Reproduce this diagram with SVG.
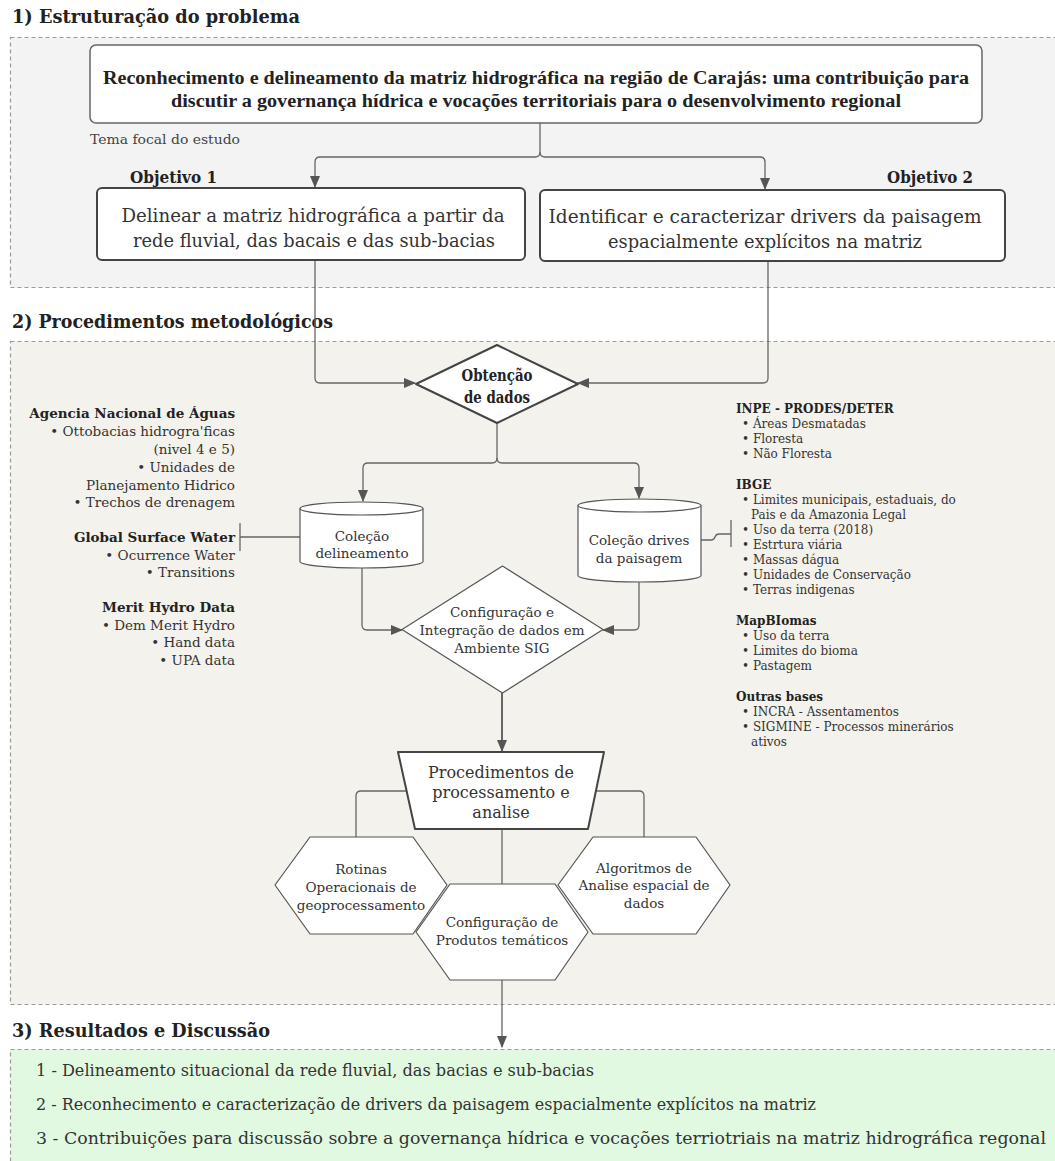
<svg xmlns="http://www.w3.org/2000/svg" width="1055" height="1161" viewBox="0 0 1055 1161">
<defs>
<marker id="arr" markerWidth="12" markerHeight="10" refX="11" refY="5" orient="auto" markerUnits="userSpaceOnUse">
<path d="M0,0 L12,5 L0,10 Z" fill="#555"/>
</marker>
<style>
.sec{stroke:#9a9a9a;stroke-width:1.2;stroke-dasharray:4,3}
.cond{font-family:"DejaVu Serif","Liberation Serif",serif}
.narrow{font-family:"Liberation Serif","DejaVu Serif",serif}
.body{font-family:"DejaVu Serif","Liberation Serif",serif;fill:#333}
.hd{font-weight:bold;fill:#222}
.node{fill:#fff;stroke:#555;stroke-width:1.2}
.nodeb{fill:#fff;stroke:#444;stroke-width:2}
.conn path{fill:none;stroke:#666;stroke-width:1.3}
.mid{text-anchor:middle}
.end{text-anchor:end}
</style>
</defs>
<rect width="1055" height="1161" fill="#fff"/>

<!-- sections -->
<g id="section1">
<text class="cond hd" x="12" y="23" font-size="18" textLength="288" lengthAdjust="spacingAndGlyphs">1) Estruturação do problema</text>
<rect class="sec" x="10.5" y="37.5" width="1060" height="250" fill="#f3f3f3"/>
</g>
<g id="section2">
<text class="cond hd" x="12" y="328" font-size="18" textLength="321" lengthAdjust="spacingAndGlyphs">2) Procedimentos metodológicos</text>
<rect class="sec" x="10.5" y="341.5" width="1060" height="663" fill="#f4f2ec"/>
</g>
<g id="section3">
<text class="cond hd" x="12" y="1037" font-size="18" textLength="258" lengthAdjust="spacingAndGlyphs">3) Resultados e Discussão</text>
<rect class="sec" x="10.5" y="1049.5" width="1060" height="130" fill="#e1f9e1"/>
<text class="cond" fill="#333" x="36" y="1076" font-size="16" textLength="558" lengthAdjust="spacingAndGlyphs">1 - Delineamento situacional da rede fluvial, das bacias e sub-bacias</text>
<text class="cond" fill="#333" x="36" y="1110" font-size="16" textLength="780" lengthAdjust="spacingAndGlyphs">2 - Reconhecimento e caracterização de drivers da paisagem espacialmente explícitos na matriz</text>
<text class="cond" fill="#333" x="36" y="1144" font-size="16" textLength="1010" lengthAdjust="spacingAndGlyphs">3 - Contribuições para discussão sobre a governança hídrica e vocações terriotriais na matriz hidrográfica regonal</text>
</g>

<!-- connectors -->
<g id="connectors" class="conn">
<path d="M540,123 V152 Q540,157 535,157 H320 Q315,157 315,162 V187" marker-end="url(#arr)"/>
<path d="M540,152 Q540,157 545,157 H760 Q765,157 765,162 V189" marker-end="url(#arr)"/>
<path d="M315,260 V378 Q315,383 320,383 H415" marker-end="url(#arr)"/>
<path d="M768,261 V378 Q768,383 763,383 H578" marker-end="url(#arr)"/>
<path d="M497,423 V458 Q497,463 492,463 H368 Q363,463 363,468 V501" marker-end="url(#arr)"/>
<path d="M497,458 Q497,463 502,463 H634 Q639,463 639,468 V498" marker-end="url(#arr)"/>
<path d="M362,568 V625 Q362,630 367,630 H402" marker-end="url(#arr)"/>
<path d="M639,582 V625 Q639,630 634,630 H603" marker-end="url(#arr)"/>
<path d="M502,693 V751" marker-end="url(#arr)" style="stroke-width:2"/>
<path d="M407,791 H361 Q356,791 356,796 V837"/>
<path d="M595,791 H639 Q644,791 644,796 V837"/>
<path d="M502,829 V884"/>
<path d="M502,980 V1047" marker-end="url(#arr)"/>
<path d="M240,523 V551 M240,537 H300"/>
<path d="M731,520 V547 M701,540 H711 Q714,540 715,537 Q716,534 719,534 H731"/>
</g>

<!-- nodes -->
<g id="tema">
<rect class="node" x="90" y="45" width="892" height="78" rx="6" style="stroke:#666;stroke-width:1.5"/>
<text class="narrow hd mid" x="536" y="84" font-size="18" textLength="866" lengthAdjust="spacingAndGlyphs">Reconhecimento e delineamento da matriz hidrográfica na região de Carajás: uma contribuição para</text>
<text class="narrow hd mid" x="536" y="107" font-size="18" textLength="730" lengthAdjust="spacingAndGlyphs">discutir a governança hídrica e vocações territoriais para o desenvolvimento regional</text>
<text class="cond" fill="#444" x="90" y="144" font-size="13" textLength="150" lengthAdjust="spacingAndGlyphs">Tema focal do estudo</text>
</g>
<g id="objetivo1">
<text class="cond hd" x="130" y="183" font-size="16" textLength="87" lengthAdjust="spacingAndGlyphs">Objetivo 1</text>
<rect class="nodeb" x="97" y="188" width="428" height="72" rx="5"/>
<text class="cond mid" fill="#333" x="313" y="222" font-size="19" textLength="383" lengthAdjust="spacingAndGlyphs">Delinear a matriz hidrográfica a partir da</text>
<text class="cond mid" fill="#333" x="314" y="247" font-size="19" textLength="362" lengthAdjust="spacingAndGlyphs">rede fluvial, das bacais e das sub-bacias</text>
</g>
<g id="objetivo2">
<text class="cond hd" x="887" y="183" font-size="16" textLength="86" lengthAdjust="spacingAndGlyphs">Objetivo 2</text>
<rect class="nodeb" x="540" y="190" width="465" height="71" rx="5"/>
<text class="cond mid" fill="#333" x="765" y="223" font-size="19" textLength="433" lengthAdjust="spacingAndGlyphs">Identificar e caracterizar drivers da paisagem</text>
<text class="cond mid" fill="#333" x="765" y="248" font-size="19" textLength="314" lengthAdjust="spacingAndGlyphs">espacialmente explícitos na matriz</text>
</g>
<g id="obtencao">
<path class="nodeb" d="M497,345 L578,384 L497,423 L416,384 Z" stroke-linejoin="round"/>
<text class="cond hd mid" x="497" y="381" font-size="16" textLength="71" lengthAdjust="spacingAndGlyphs">Obtenção</text>
<text class="cond hd mid" x="497" y="403" font-size="16" textLength="66" lengthAdjust="spacingAndGlyphs">de dados</text>
</g>
<g id="fontes-esquerda" class="body" font-size="13.5">
<text class="hd end" x="235" y="418" font-size="13.5">Agencia Nacional de Águas</text>
<text class="end" x="235" y="436">• Ottobacias hidrogra'ficas</text>
<text class="end" x="235" y="454">(nivel 4 e 5)</text>
<text class="end" x="235" y="472">• Unidades de</text>
<text class="end" x="235" y="490">Planejamento Hidrico</text>
<text class="end" x="235" y="507">• Trechos de drenagem</text>
<text class="hd end" x="235" y="542" font-size="13.5">Global Surface Water</text>
<text class="end" x="235" y="560">• Ocurrence Water</text>
<text class="end" x="235" y="577">• Transitions</text>
<text class="hd end" x="235" y="612" font-size="13.5">Merit Hydro Data</text>
<text class="end" x="235" y="630">• Dem Merit Hydro</text>
<text class="end" x="235" y="647">• Hand data</text>
<text class="end" x="235" y="665">• UPA data</text>
</g>
<g id="fontes-direita" class="body" font-size="12">
<text class="hd" x="736" y="413">INPE - PRODES/DETER</text>
<text x="742" y="428">• Áreas Desmatadas</text>
<text x="742" y="443">• Floresta</text>
<text x="742" y="458">• Não Floresta</text>
<text class="hd" x="736" y="489">IBGE</text>
<text x="742" y="504">• Limites municipais, estaduais, do</text>
<text x="751" y="519">Pais e da Amazonia Legal</text>
<text x="742" y="534">• Uso da terra (2018)</text>
<text x="742" y="549">• Estrtura viária</text>
<text x="742" y="564">• Massas dágua</text>
<text x="742" y="579">• Unidades de Conservação</text>
<text x="742" y="594">• Terras indigenas</text>
<text class="hd" x="736" y="625">MapBIomas</text>
<text x="742" y="640">• Uso da terra</text>
<text x="742" y="655">• Limites do bioma</text>
<text x="742" y="670">• Pastagem</text>
<text class="hd" x="736" y="701">Outras bases</text>
<text x="742" y="716">• INCRA - Assentamentos</text>
<text x="742" y="731">• SIGMINE - Processos minerários</text>
<text x="751" y="746">ativos</text>
</g>
<g id="colecao-delineamento">
<path class="node" d="M300,508.5 A61.5,6.5 0 0 1 423,508.5 V561.5 A61.5,6.5 0 0 1 300,561.5 Z"/>
<path d="M300,508.5 A61.5,6.5 0 0 0 423,508.5" fill="none" stroke="#555" stroke-width="1.2"/>
<text class="body mid" x="362" y="541" font-size="13.5">Coleção</text>
<text class="body mid" x="362" y="558" font-size="13.5">delineamento</text>
</g>
<g id="colecao-drives">
<path class="node" d="M578,505.5 A61.5,6.5 0 0 1 701,505.5 V575.5 A61.5,6.5 0 0 1 578,575.5 Z"/>
<path d="M578,505.5 A61.5,6.5 0 0 0 701,505.5" fill="none" stroke="#555" stroke-width="1.2"/>
<text class="body mid" x="639" y="545" font-size="13.5">Coleção drives</text>
<text class="body mid" x="639" y="563" font-size="13.5">da paisagem</text>
</g>
<g id="integracao">
<path class="node" d="M502.5,566 L603,629.5 L502.5,693 L402,629.5 Z" stroke-linejoin="round"/>
<text class="body mid" x="502" y="617" font-size="13.5">Configuração e</text>
<text class="body mid" x="502" y="635" font-size="13.5">Integração de dados em</text>
<text class="body mid" x="502" y="653" font-size="13.5">Ambiente SIG</text>
</g>
<g id="procedimentos">
<path class="nodeb" d="M398,752 L604,752 L588,829 L415,829 Z" stroke-linejoin="round"/>
<text class="body mid" x="501" y="778" font-size="16">Procedimentos de</text>
<text class="body mid" x="501" y="798" font-size="16">processamento e</text>
<text class="body mid" x="501" y="818" font-size="16">analise</text>
</g>
<g id="rotinas">
<path class="node" d="M310,837 L413,837 L447,885 L413,934 L310,934 L275,885 Z" stroke-linejoin="round"/>
<text class="body mid" x="361" y="874" font-size="13.5">Rotinas</text>
<text class="body mid" x="361" y="892" font-size="13.5">Operacionais de</text>
<text class="body mid" x="361" y="910" font-size="13.5">geoprocessamento</text>
</g>
<g id="algoritmos">
<path class="node" d="M593,837 L696,837 L730,885 L696,934 L593,934 L558,885 Z" stroke-linejoin="round"/>
<text class="body mid" x="644" y="873" font-size="13.5">Algoritmos de</text>
<text class="body mid" x="644" y="890" font-size="13.5">Analise espacial de</text>
<text class="body mid" x="644" y="908" font-size="13.5">dados</text>
</g>
<g id="produtos">
<path class="node" d="M450,884 L555,884 L588,932 L555,980 L450,980 L416,932 Z" stroke-linejoin="round"/>
<text class="body mid" x="502" y="927" font-size="13.5">Configuração de</text>
<text class="body mid" x="502" y="945" font-size="13.5">Produtos temáticos</text>
</g>
</svg>
